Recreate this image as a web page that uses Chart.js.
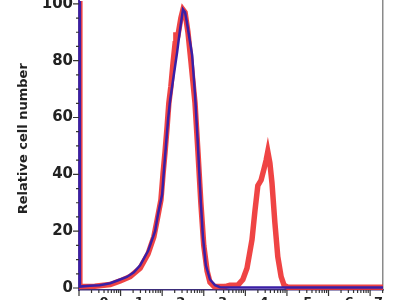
<!DOCTYPE html>
<html>
<head>
<meta charset="utf-8">
<script src="https://cdn.jsdelivr.net/npm/chart.js@4.4.1/dist/chart.umd.min.js"></script>
<style>
html,body{margin:0;padding:0;background:#fff;overflow:hidden;width:400px;height:300px;}
#wrap{position:absolute;left:0;top:-14px;width:400px;height:324px;}
</style>
</head>
<body>
<div id="wrap"><canvas id="c" width="400" height="324"></canvas></div>
<script>
// x in decade units of the log channel axis, y = relative cell number
const blueX = [0,0.02,0.26,0.50,0.75,0.99,1.15,1.32,1.47,1.66,1.83,1.90,2.00,2.04,2.09,2.14,2.19,2.26,2.36,2.43,2.50,2.55,2.60,2.72,2.79,2.86,2.93,2.98,3.05,3.15,3.27,3.39,3.63,7.31];
const blueY = [105,0.5,0.8,1.0,1.7,3.0,3.9,5.5,8,13,20,26,33,41,50,59,66,73,83,91,98,97,93,82,68,50,30,18,8,3,1,0.3,0.2,0.2];
const redX = [0,0.02,0.38,0.75,0.99,1.23,1.47,1.66,1.80,1.88,1.97,2.02,2.07,2.12,2.16,2.21,2.26,2.31,2.33,2.38,2.45,2.50,2.55,2.62,2.69,2.79,2.86,2.93,3.00,3.08,3.15,3.25,3.51,3.63,3.82,3.94,4.04,4.16,4.23,4.30,4.38,4.45,4.50,4.54,4.59,4.64,4.71,4.78,4.86,4.93,5.02,7.31];
const redY = [105,0.5,0.6,1.2,2.5,4,7,12,18,24,31,40,48,57,65,71,79,86,89,89,95,98,97,90,80,65,48,30,15,6,2,0.5,0.5,1,1,3,7,17,27,36,38,42,45,48,44,37,23,11,4,1,0.3,0.3];
const xTickValues = [0.6,1.45,2.45,3.45,4.45,5.5,6.5,7.2];
const xTickLabels = ['0','1','2','3','4','5','6','7'];
const yTickLabels = ['0','20','40','60','80','100'];

const toPts = (xs, ys) => xs.map((x, i) => ({x: x, y: ys[i]}));

const minorTicks = {
  id: 'minorTicks',
  afterDraw(chart) {
    const ctx = chart.ctx, xs = chart.scales.x, ys = chart.scales.y;
    const ca = chart.chartArea;
    ctx.save();
    ctx.strokeStyle = '#333';
    ctx.lineWidth = 1.2;
    ctx.beginPath();
    for (let k = 0; k <= 7; k++) {
      const px = xs.getPixelForValue(k);
      if (px <= ca.right + 0.5) { ctx.moveTo(px, ca.bottom); ctx.lineTo(px, ca.bottom + 6); }
      for (let m = 2; m <= 9; m++) {
        const v = k + Math.log10(m);
        const p = xs.getPixelForValue(v);
        if (p <= ca.right) { ctx.moveTo(p, ca.bottom); ctx.lineTo(p, ca.bottom + 3); }
      }
    }
    for (let v = 0; v <= 100; v += 5) {
      const py = ys.getPixelForValue(v);
      const len = (v % 20 === 0) ? 6 : 3;
      ctx.moveTo(ca.left, py); ctx.lineTo(ca.left - len, py);
    }
    ctx.stroke();
    ctx.restore();
  }
};

new Chart(document.getElementById('c'), {
  type: 'line',
  data: {
    datasets: [
      {data: toPts(blueX, blueY), borderColor: '#3a1fa6', borderWidth: 2.5, pointRadius: 0, tension: 0, order: 1},
      {data: toPts(redX, redY), borderColor: 'rgba(238,52,52,0.92)', borderWidth: 5.5, pointRadius: 0, tension: 0, order: 2}
    ]
  },
  options: {
    responsive: false,
    devicePixelRatio: 1,
    animation: false,
    events: [],
    layout: {padding: {top: 10, right: 0, left: 0, bottom: 0}},
    plugins: {legend: {display: false}, tooltip: {enabled: false}},
    scales: {
      x: {
        type: 'linear', min: 0, max: 7.31,
        afterFit(s) { s.height = 20; },
        afterBuildTicks(s) { s.ticks = xTickValues.map(v => ({value: v})); },
        grid: {display: false, drawTicks: false},
        border: {display: true, color: '#3b2d7a', width: 1.5},
        ticks: {
          padding: 5, maxRotation: 0, autoSkip: false,
          color: '#222', font: {family: 'DejaVu Sans', size: 13, weight: 'bold'},
          callback: (v, i) => xTickLabels[i]
        }
      },
      y: {
        type: 'linear', min: -0.7, max: 101,
        afterFit(s) { s.width = 79; },
        afterBuildTicks(s) { s.ticks = yTickLabels.map(t => ({value: Number(t)})); },
        grid: {display: false, drawTicks: false},
        border: {display: true, color: '#4a2fa0', width: 2},
        ticks: {
          padding: 6, color: '#222',
          font: {family: 'DejaVu Sans', size: 15, weight: 'bold'},
          callback: (v, i) => yTickLabels[i]
        },
        title: {
          display: true, text: '   Relative cell number', color: '#222',
          font: {family: 'DejaVu Sans', size: 13, weight: 'bold'},
          padding: {top: 16, bottom: 0}
        }
      },
      y2: {
        type: 'linear', position: 'right', min: -0.7, max: 101,
        afterFit(s) { s.width = 17; },
        grid: {display: false, drawTicks: false},
        ticks: {display: false},
        border: {display: true, color: '#8a8a8a', width: 1.5}
      }
    }
  },
  plugins: [minorTicks]
});
</script>
</body>
</html>
